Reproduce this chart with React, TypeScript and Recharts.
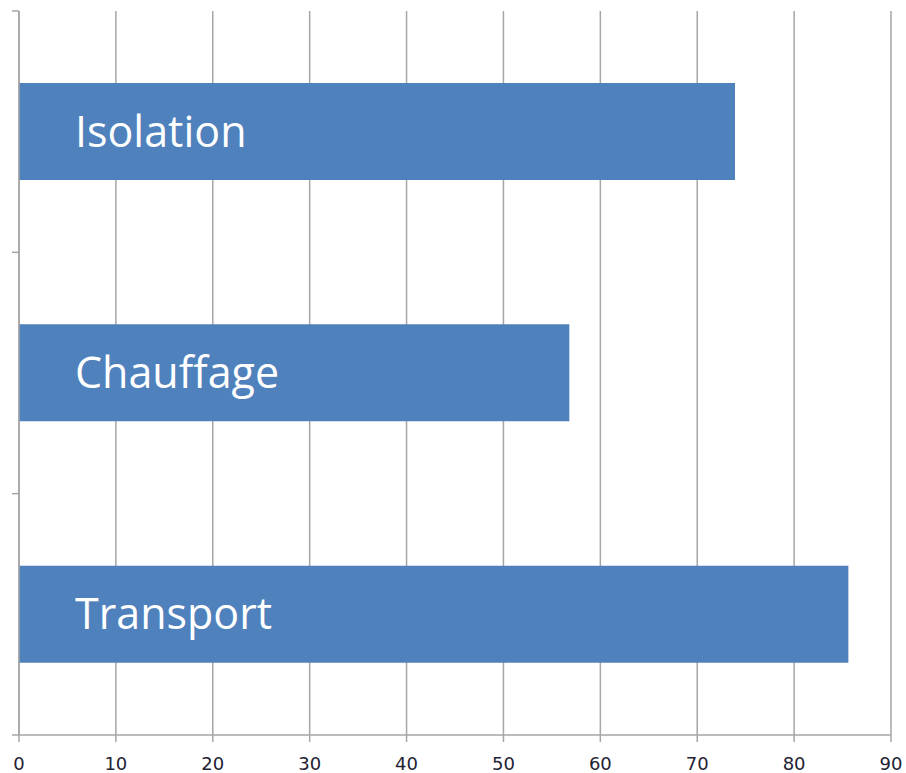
import { BarChart, Bar, XAxis, YAxis, CartesianGrid, LabelList } from "recharts";

const categories = ["Isolation", "Chauffage", "Transport"];
const values = [73.9, 56.8, 85.6];
const xTicks = [0, 10, 20, 30, 40, 50, 60, 70, 80, 90];

const data = categories.map((name, i) => ({ name, value: values[i] }));

const gridColor = "#a6a6a6";
const barColor = "#4f81bd";

// ticks on the category axis sit on the band edges, not the centers
const BandTick = (props: any) => {
    const { x, y, index } = props;
    const half = (735 - 11) / categories.length / 2;
    return (
        <g>
            <line x1={x - 7} x2={x} y1={y - half} y2={y - half} stroke={gridColor} strokeWidth={1.5} />
            {index === categories.length - 1 && (
                <line x1={x - 7} x2={x} y1={y + half} y2={y + half} stroke={gridColor} strokeWidth={1.5} />
            )}
        </g>
    );
};

const BarName = (props: any) => {
    const { x, y, height, value } = props;
    return (
        <text
            x={x + 56}
            y={y + height / 2 + 15}
            fill="#ffffff"
            fontSize={43}
            fontFamily="'Open Sans', sans-serif"
        >
            {value}
        </text>
    );
};

export default function App() {
    return (
        <div style={{ position: "absolute", left: 0, top: 0, background: "#fff" }}>
            <BarChart
                width={906}
                height={773}
                data={data}
                layout="vertical"
                margin={{ top: 11, right: 15, left: 0, bottom: 0 }}
                barSize={97}
            >
                <CartesianGrid horizontal={false} stroke={gridColor} strokeWidth={1.5} />
                <XAxis
                    type="number"
                    domain={[0, 90]}
                    ticks={xTicks}
                    interval={0}
                    axisLine={{ stroke: gridColor, strokeWidth: 1.5 }}
                    tickLine={{ stroke: gridColor, strokeWidth: 1.5 }}
                    tickSize={7}
                    tickMargin={15}
                    height={38}
                    tick={{ fill: "#222233", fontSize: 18, fontFamily: "'DejaVu Sans', sans-serif" }}
                />
                <YAxis
                    type="category"
                    dataKey="name"
                    width={19}
                    interval={0}
                    axisLine={{ stroke: gridColor, strokeWidth: 1.5 }}
                    tickLine={false}
                    tickSize={0}
                    tickMargin={0}
                    tick={<BandTick />}
                />
                <Bar dataKey="value" fill={barColor} isAnimationActive={false}>
                    <LabelList dataKey="name" content={<BarName />} />
                </Bar>
            </BarChart>
        </div>
    );
}
